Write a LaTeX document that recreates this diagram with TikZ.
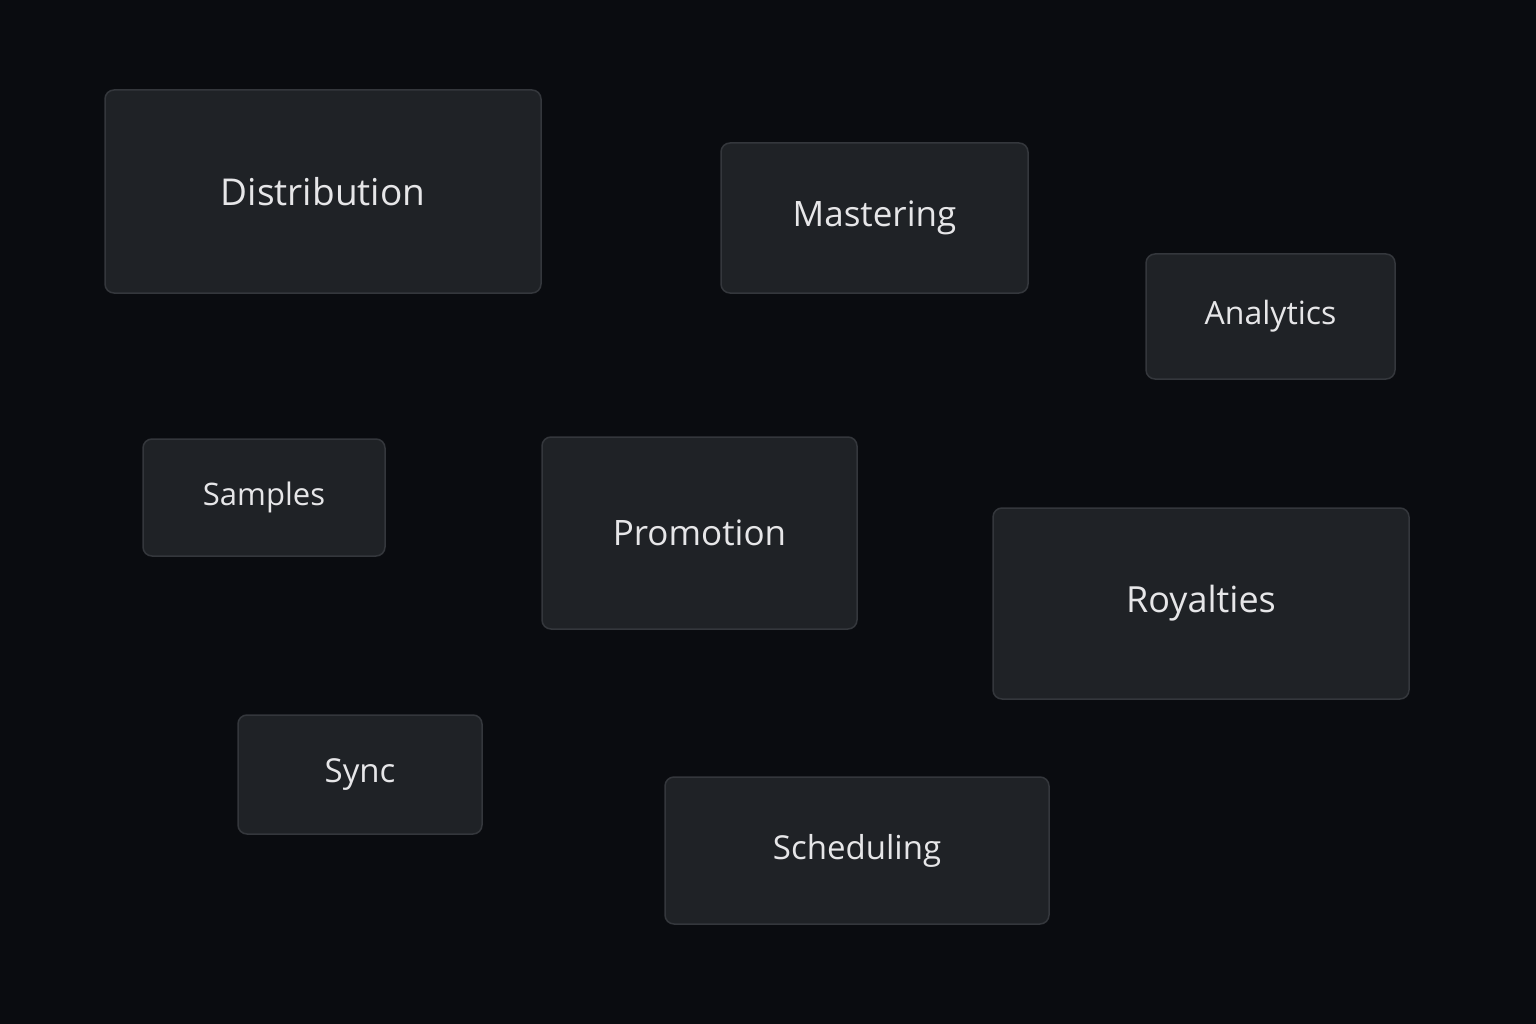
\documentclass[tikz,border=0pt]{standalone}
\usepackage{fontspec}
\setmainfont{Open Sans}
\definecolor{bg}{HTML}{0A0C10}
\definecolor{boxfill}{HTML}{1F2226}
\definecolor{boxline}{HTML}{34373C}
\definecolor{txt}{HTML}{E6E6E8}
\tikzset{card/.style={draw=boxline,line width=1.5pt,fill=boxfill,rounded corners=9pt},
lbl/.style={text=txt,inner sep=0pt}}
\newcommand{\card}[6]{%
 \draw[card] (#1,-#2) rectangle (#3,-#4);
 \node[lbl,font=\fontsize{#6}{#6}\selectfont] (n#5) at ({(#1+#3)/2},{-(#2+#4)/2}) {#5};}
\begin{document}
\begin{tikzpicture}[x=1pt,y=1pt]
\fill[bg] (0,0) rectangle (1536,-1024);
\useasboundingbox (0,0) rectangle (1536,-1024);
\card{105}{90}{541}{293}{Distribution}{37}
\card{721}{143}{1028}{293}{Mastering}{35}
\card{1146}{254}{1395}{379}{Analytics}{32}
\card{143}{439}{385}{556}{Samples}{31}
\card{542}{437}{857}{629}{Promotion}{35}
\card{993}{508}{1409}{699}{Royalties}{36}
\card{238}{715}{482}{834}{Sync}{33}
\card{665}{777}{1049}{924}{Scheduling}{33}
\end{tikzpicture}
\end{document}
